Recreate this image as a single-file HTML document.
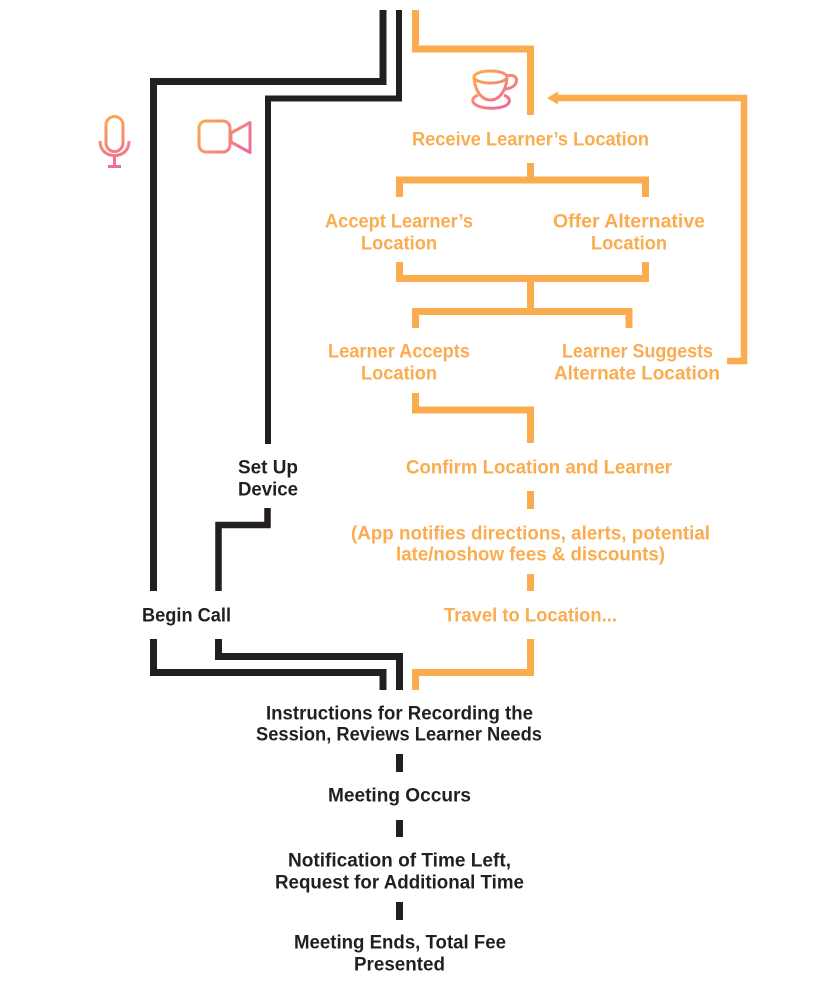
<!DOCTYPE html>
<html><head><meta charset="utf-8"><style>
html,body{margin:0;padding:0;background:#fff}
svg{display:block}
text{font-family:"Liberation Sans",sans-serif;font-weight:bold;font-size:19px;}
.o text{fill:#FAAC4F}.k text{fill:#231F20}
</style></head><body>
<svg width="814" height="994" viewBox="0 0 814 994" xmlns="http://www.w3.org/2000/svg">
<defs>
<linearGradient id="g2" gradientUnits="userSpaceOnUse" x1="198" y1="120" x2="250" y2="153"><stop offset="0" stop-color="#FBAA4C"/><stop offset="1" stop-color="#EE6A9B"/></linearGradient>
<linearGradient id="g3" gradientUnits="userSpaceOnUse" x1="478" y1="70" x2="505" y2="108"><stop offset="0" stop-color="#FBAA4C"/><stop offset="1" stop-color="#EE6A9B"/></linearGradient>
<linearGradient id="g4" gradientUnits="userSpaceOnUse" x1="105" y1="115" x2="122" y2="167"><stop offset="0" stop-color="#FBAA4C"/><stop offset="1" stop-color="#EE6A9B"/></linearGradient>
</defs>
<g fill="none" stroke="#231F20" stroke-width="7">
<path d="M383 10V81.500H153.500V591"/>
<path d="M399 10V98.500H268V444" stroke-width="6"/>
<path d="M267.500 508V525H218.500V591" stroke-width="6.500"/>
<path d="M153.500 639V672.500H383V690"/>
<path d="M218.500 639V656.500H399.500V690"/>
<path d="M399.500 754V772M399.500 820V837M399.500 902V920"/>
</g>
<g fill="none" stroke="#FAAC4F" stroke-width="7">
<path d="M415.500 10V49H530.500V115"/>
<path d="M530.500 163V180"/>
<path d="M399.500 197V180H645.500V197"/>
<path d="M399.500 262V278.500H645.500V262"/>
<path d="M530.500 278.500V311"/>
<path d="M415.500 328V311.500H629V328"/>
<path d="M415.500 393V410H530.500V443"/>
<path d="M530.500 491V509M530.500 574V591"/>
<path d="M530.500 639V672.500H415.500V690"/>
<path d="M727 361H744V98H558" stroke-width="6.500"/>
</g>
<polygon points="547,98 558,91.500 558,104.500" fill="#FAAC4F"/>
<g fill="none" stroke-width="3" stroke-linejoin="round">
<g stroke="url(#g4)">
<rect x="106" y="116.500" width="17" height="35" rx="8.500"/>
<path d="M100 141C100 150 106 155.500 114.500 155.500C123 155.500 129 150 129 141"/>
<path d="M114.500 155.500V166M108 166.500H121"/>
</g>
<g stroke="url(#g2)">
<rect x="199" y="121" width="31" height="31" rx="7"/>
<path d="M231 133L250 122.500V152.500L231 142Z"/>
</g>
<g stroke="url(#g3)">
<ellipse cx="490.500" cy="77" rx="16.500" ry="6"/>
<path d="M474 78C475 90 481 100 490.500 100C500 100 506 90 507 78"/>
<path d="M507 76C513 74 517 77 516.500 81C516 86 510 89 504 89"/>
<path d="M478 95C471 98 471 103 478 106C486 109 497 109 505 106C511 103 511 98 504 95"/>
</g>
</g>
<g class="o" transform="translate(0,-0.5)">
<text x="412" y="146" textLength="237" lengthAdjust="spacingAndGlyphs">Receive Learner’s Location</text>
<text x="325" y="228" textLength="148" lengthAdjust="spacingAndGlyphs">Accept Learner’s</text>
<text x="361" y="250" textLength="76" lengthAdjust="spacingAndGlyphs">Location</text>
<text x="553" y="228" textLength="152" lengthAdjust="spacingAndGlyphs">Offer Alternative</text>
<text x="591" y="250" textLength="76" lengthAdjust="spacingAndGlyphs">Location</text>
<text x="328" y="358" textLength="142" lengthAdjust="spacingAndGlyphs">Learner Accepts</text>
<text x="361" y="380" textLength="76" lengthAdjust="spacingAndGlyphs">Location</text>
<text x="562" y="358" textLength="151" lengthAdjust="spacingAndGlyphs">Learner Suggests</text>
<text x="554" y="380" textLength="166" lengthAdjust="spacingAndGlyphs">Alternate Location</text>
<text x="406" y="474" textLength="266" lengthAdjust="spacingAndGlyphs">Confirm Location and Learner</text>
<text x="351" y="540" textLength="359" lengthAdjust="spacingAndGlyphs">(App notifies directions, alerts, potential</text>
<text x="396" y="561" textLength="269" lengthAdjust="spacingAndGlyphs">late/noshow fees &amp; discounts)</text>
<text x="444" y="622" textLength="173" lengthAdjust="spacingAndGlyphs">Travel to Location...</text>
</g>
<g class="k" transform="translate(0,-0.5)">
<text x="238" y="474" textLength="60" lengthAdjust="spacingAndGlyphs">Set Up</text>
<text x="238" y="496" textLength="60" lengthAdjust="spacingAndGlyphs">Device</text>
<text x="142" y="622" textLength="89" lengthAdjust="spacingAndGlyphs">Begin Call</text>
<text x="266" y="720" textLength="267" lengthAdjust="spacingAndGlyphs">Instructions for Recording the</text>
<text x="256" y="741" textLength="286" lengthAdjust="spacingAndGlyphs">Session, Reviews Learner Needs</text>
<text x="328" y="802" textLength="143" lengthAdjust="spacingAndGlyphs">Meeting Occurs</text>
<text x="288" y="867" textLength="223" lengthAdjust="spacingAndGlyphs">Notification of Time Left,</text>
<text x="275" y="889" textLength="249" lengthAdjust="spacingAndGlyphs">Request for Additional Time</text>
<text x="294" y="949" textLength="212" lengthAdjust="spacingAndGlyphs">Meeting Ends, Total Fee</text>
<text x="354" y="971" textLength="91" lengthAdjust="spacingAndGlyphs">Presented</text>
</g>
</svg>
</body></html>
